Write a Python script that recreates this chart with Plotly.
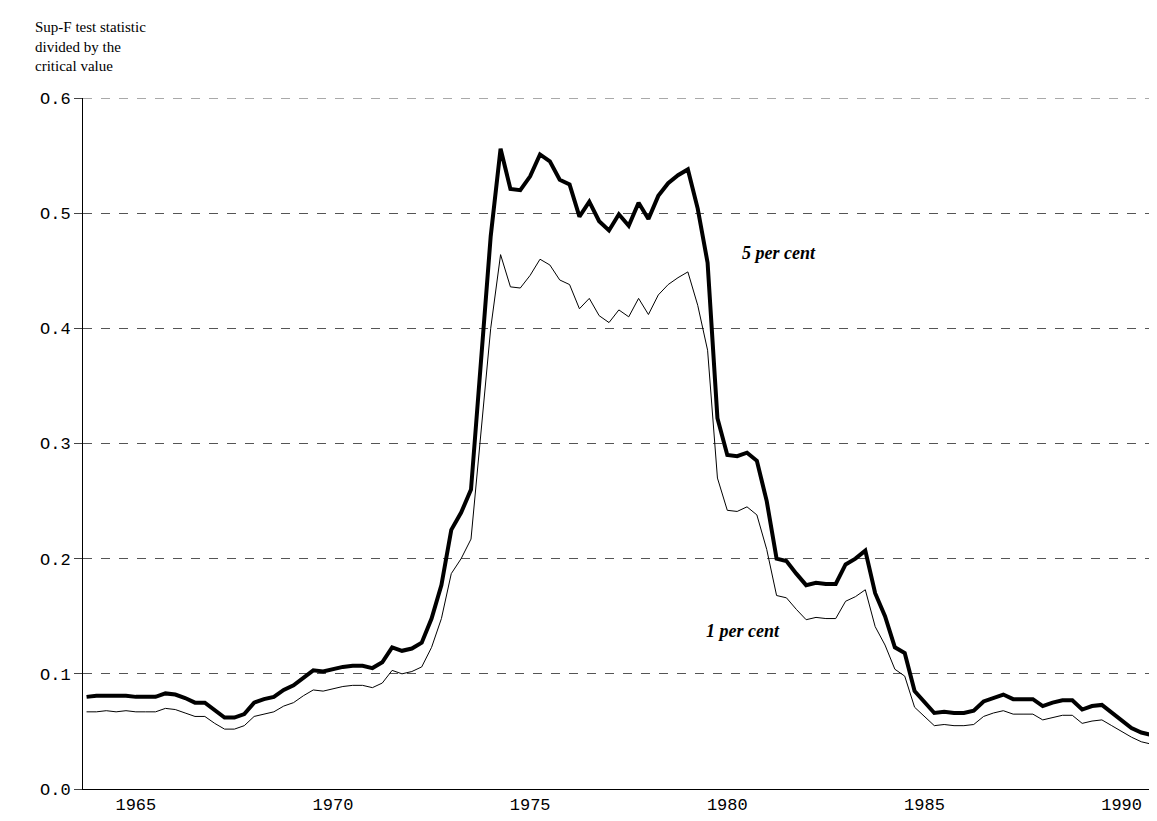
import pandas as pd
import plotly.graph_objects as go

# quarterly, 1963Q4 .. 1990Q4
five_pct = [0.080, 0.081, 0.081, 0.081, 0.081, 0.080, 0.080, 0.080,
            0.083, 0.082, 0.079, 0.075, 0.075, 0.068, 0.062, 0.062, 0.065, 0.075, 0.078, 0.080,
            0.086, 0.090, 0.097, 0.103, 0.102, 0.104, 0.106, 0.107, 0.107, 0.105, 0.110, 0.123,
            0.120, 0.122, 0.127, 0.148, 0.177, 0.225, 0.240, 0.260, 0.375, 0.480, 0.556,
            0.521, 0.520, 0.532, 0.551, 0.545, 0.529, 0.525, 0.497, 0.510, 0.493, 0.485, 0.499,
            0.489, 0.509, 0.495, 0.515, 0.526, 0.533, 0.538,
            0.504, 0.457, 0.322, 0.290, 0.289, 0.292, 0.285, 0.250, 0.200, 0.198, 0.187, 0.177,
            0.179, 0.178, 0.178, 0.195, 0.200, 0.207, 0.170, 0.150, 0.123, 0.118, 0.085, 0.075,
            0.066, 0.067, 0.066, 0.066, 0.068, 0.076, 0.079, 0.082, 0.078, 0.078, 0.078, 0.072,
            0.075, 0.077, 0.077, 0.069, 0.072, 0.073, 0.066, 0.060, 0.053, 0.049, 0.047]
one_pct = [0.067, 0.067, 0.068, 0.067, 0.068, 0.067, 0.067, 0.067,
           0.070, 0.069, 0.066, 0.063, 0.063, 0.057, 0.052, 0.052, 0.055, 0.063, 0.065, 0.067,
           0.072, 0.075, 0.081, 0.086, 0.085, 0.087, 0.089, 0.090, 0.090, 0.088, 0.092, 0.103,
           0.100, 0.102, 0.106, 0.123, 0.148, 0.187, 0.200, 0.217, 0.310, 0.400, 0.464,
           0.436, 0.435, 0.446, 0.460, 0.455, 0.442, 0.438, 0.417, 0.426, 0.411, 0.405, 0.416,
           0.410, 0.426, 0.412, 0.429, 0.438, 0.444, 0.449,
           0.420, 0.381, 0.270, 0.242, 0.241, 0.245, 0.238, 0.208, 0.168, 0.166, 0.156, 0.147,
           0.149, 0.148, 0.148, 0.163, 0.167, 0.173, 0.141, 0.125, 0.104, 0.098, 0.071, 0.063,
           0.055, 0.056, 0.055, 0.055, 0.056, 0.063, 0.066, 0.068, 0.065, 0.065, 0.065, 0.060,
           0.062, 0.064, 0.064, 0.057, 0.059, 0.060, 0.055, 0.050, 0.045, 0.041, 0.039]
year_ticks = [1965, 1970, 1975, 1980, 1985, 1990]
y_ticks = [0.0, 0.1, 0.2, 0.3, 0.4, 0.5, 0.6]
y_labels = ["O.0", "O.1", "O.2", "O.3", "O.4", "O.5", "O.6"]

dates = [1963.75 + 0.25 * i for i in range(len(five_pct))]

fig = go.Figure()
fig.add_trace(go.Scatter(x=dates, y=one_pct, mode="lines", line=dict(color="black", width=1)))
fig.add_trace(go.Scatter(x=dates, y=five_pct, mode="lines", line=dict(color="black", width=4)))

# top gridline at 0.6
fig.add_shape(type="line", xref="paper", x0=0, x1=1, y0=0.6, y1=0.6,
              line=dict(color="#555", width=1, dash="dash"))

fig.add_annotation(x=1981.3, y=0.465, text="<b><i>5 per cent</i></b>", showarrow=False,
                   font=dict(family="Liberation Serif", size=18, color="black"))
fig.add_annotation(x=1980.4, y=0.137, text="<b><i>1 per cent</i></b>", showarrow=False,
                   font=dict(family="Liberation Serif", size=18, color="black"))
fig.add_annotation(x=0.0, y=1.0, xref="paper", yref="paper", xanchor="left", yanchor="bottom",
                   xshift=-50, yshift=22, align="left", showarrow=False,
                   text="Sup-F test statistic<br>divided by the<br>critical value",
                   font=dict(family="Liberation Serif", size=15, color="black"))

fig.update_layout(
    width=1157, height=821, showlegend=False,
    plot_bgcolor="white", paper_bgcolor="white",
    margin=dict(l=75, r=2, t=90, b=40),
    font=dict(family="Liberation Mono", size=17, color="black"),
)
fig.update_xaxes(range=[1963.66, 1991.05], tickvals=year_ticks, showgrid=False,
                 showline=True, linecolor="black", linewidth=1, ticks="", zeroline=False)
fig.update_yaxes(range=[0, 0.6], tickvals=y_ticks, ticktext=y_labels, showgrid=True,
                 gridcolor="#555", griddash="dash", gridwidth=1,
                 showline=True, linecolor="black", linewidth=1, ticks="outside", ticklen=8,
                 zeroline=False)

fig.write_html("out.html")
